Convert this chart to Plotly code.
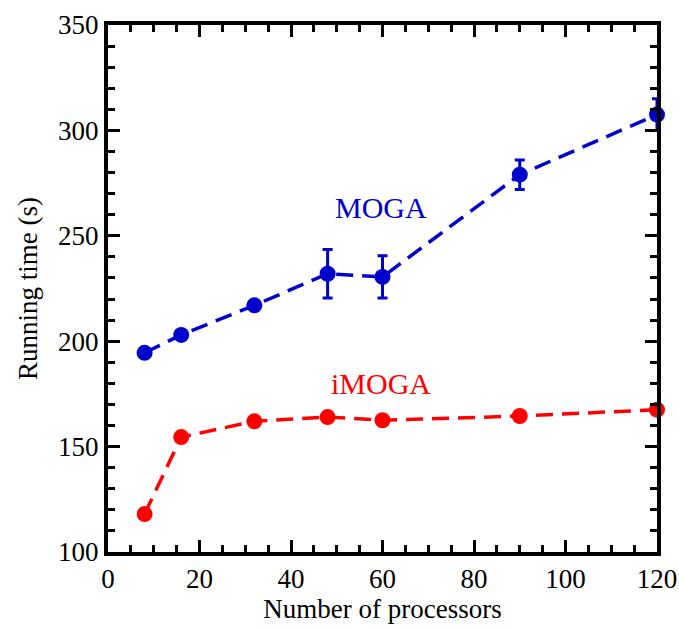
import plotly.graph_objects as go

processors = [8, 16, 32, 48, 60, 90, 120]
moga_time = [194.5, 203, 217, 232, 230.5, 279, 307.5]
moga_err = [2, 2, 2, 11.5, 10, 7, 7.5]
imoga_time = [118, 154.5, 162, 164, 162.5, 164.5, 167.5]

font_family = "Liberation Serif, Times New Roman, serif"
BLUE = "#0000CC"
RED = "#FF0000"

fig = go.Figure()
fig.add_trace(go.Scatter(
    x=processors, y=moga_time, mode="lines+markers",
    line=dict(color=BLUE, width=3.5, dash="17px,9px"),
    marker=dict(color=BLUE, size=16),
    error_y=dict(type="data", array=moga_err, visible=True, color=BLUE, thickness=3, width=5),
    cliponaxis=False, showlegend=False,
))
fig.add_trace(go.Scatter(
    x=processors, y=imoga_time, mode="lines+markers",
    line=dict(color=RED, width=3.5, dash="17px,9px"),
    marker=dict(color=RED, size=16),
    cliponaxis=False, showlegend=False,
))

fig.add_annotation(x=59.7, y=263.5, text="MOGA", showarrow=False,
                   font=dict(family=font_family, size=30, color=BLUE))
fig.add_annotation(x=59.7, y=180, text="iMOGA", showarrow=False,
                   font=dict(family=font_family, size=30, color=RED))

axis_common = dict(
    showgrid=False, zeroline=False, showline=True, linecolor="black", linewidth=4,
    mirror="allticks", ticks="inside", ticklen=12, tickwidth=3, tickcolor="black",
    tickfont=dict(family=font_family, size=27, color="black"), automargin=False,
)
fig.update_xaxes(range=[0, 120], dtick=20, tick0=0,
                 minor=dict(dtick=5, ticks="inside", ticklen=7, tickwidth=3, tickcolor="black"),
                 title=dict(text="Number of processors", font=dict(family=font_family, size=27, color="black"), standoff=6),
                 **axis_common)
fig.update_yaxes(range=[100, 350], dtick=50, tick0=100,
                 minor=dict(dtick=10, ticks="inside", ticklen=7, tickwidth=3, tickcolor="black"),
                 title=dict(text="Running time (s)", font=dict(family=font_family, size=27, color="black"), standoff=14),
                 **axis_common)

fig.update_layout(
    width=679, height=630,
    margin=dict(l=108, r=22, t=25, b=78, autoexpand=False),
    plot_bgcolor="white", paper_bgcolor="white",
)

fig.write_html("out.html", config={"displayModeBar": False},
               post_script="document.body.style.margin='0';document.body.style.overflow='hidden';")
